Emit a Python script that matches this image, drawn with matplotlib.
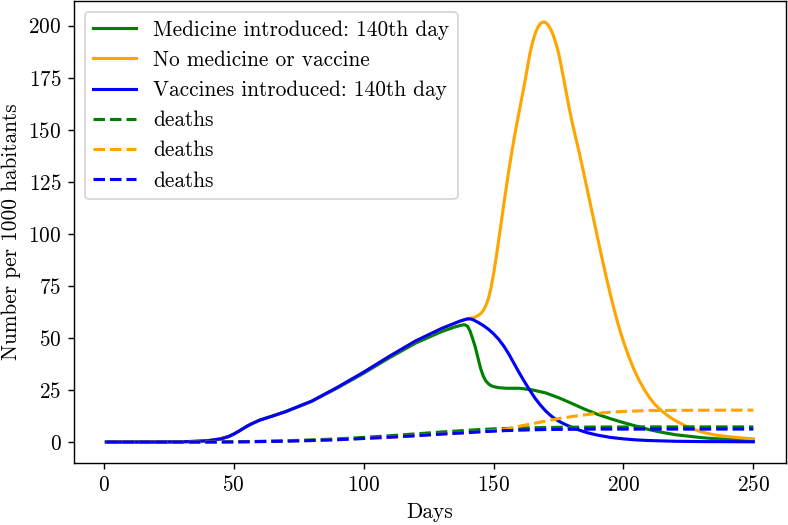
import matplotlib
matplotlib.use("Agg")
import matplotlib.pyplot as plt

plt.rcParams['font.family'] = 'serif'
plt.rcParams['font.serif'] = ['cmr10']
plt.rcParams['axes.formatter.use_mathtext'] = True
plt.rcParams['font.size'] = 12

# Vaccine scenario (blue) – infected
days_vac = [1, 10, 20, 30, 35, 40, 45, 48, 50, 52, 55, 57, 60, 65, 70, 80, 90, 100, 110, 120, 130, 135,
            137, 139, 140, 141, 142, 144, 146, 148, 150, 152, 154, 156, 158, 160, 162, 164, 166, 168,
            170, 172, 174, 176, 178, 180, 183, 186, 190, 195, 200, 205, 210, 220, 230, 240, 250]
inf_vac = [0, 0, 0, 0.1, 0.3, 0.6, 1.5, 2.6, 3.8, 5.2, 7.5, 8.8, 10.5, 12.5, 14.6, 19.6, 26.3, 33.5, 41.2, 48.5, 54.5, 57.0,
           58.0, 58.8, 59.1, 59.1, 58.8, 57.5, 56.0, 54.2, 52.0, 49.3, 46.0, 42.0, 37.5, 33.0, 28.8, 24.8, 21.0, 17.8,
           15.0, 12.7, 10.8, 9.4, 8.2, 7.1, 5.7, 4.5, 3.3, 2.2, 1.5, 1.0, 0.7, 0.35, 0.2, 0.15, 0.1]

# Medicine scenario (green) – infected
days_med = [1, 10, 20, 30, 35, 40, 45, 48, 50, 52, 55, 57, 60, 65, 70, 80, 90, 100, 110, 120, 130, 135, 137,
            138, 139, 140, 141, 142, 143, 144, 145, 146, 147, 148, 149, 150, 152, 155, 160, 165, 170, 175, 180,
            185, 190, 195, 200, 205, 210, 215, 220, 225, 230, 235, 240, 245, 250]
inf_med = [0, 0, 0, 0.1, 0.3, 0.6, 1.5, 2.6, 3.8, 5.2, 7.5, 8.8, 10.5, 12.5, 14.6, 19.5, 26.0, 33.0, 40.5, 47.5, 53.0, 55.2, 55.9,
           56.2, 56.3, 55.6, 53.2, 49.5, 45.5, 40.5, 35.5, 31.8, 29.4, 28.0, 27.1, 26.6, 26.1, 25.8, 25.8, 25.0, 23.6, 21.3, 18.6,
           15.8, 13.3, 11.2, 9.3, 7.6, 5.9, 4.6, 3.5, 2.8, 2.1, 1.6, 1.3, 1.1, 0.95]

# No medicine or vaccine (orange) – infected
days_none = [1, 10, 20, 30, 35, 40, 45, 48, 50, 52, 55, 57, 60, 65, 70, 80, 90, 100, 110, 120, 130, 135, 137, 139,
             140, 141, 142, 143, 144, 145, 146, 147, 148, 149, 150, 151, 152, 153, 154, 155, 156, 157, 158, 159,
             160, 161, 162, 163, 164, 165, 166, 167, 168, 169, 170, 171, 172, 173, 174, 175, 176, 177, 178, 179,
             180, 181, 182, 183, 184, 185, 186, 187, 188, 189, 190, 191, 192, 193, 194, 195, 196, 197, 198, 199,
             200, 202, 204, 206, 208, 210, 212, 215, 218, 220, 223, 225, 228, 230, 235, 240, 245, 250]
inf_none = [0, 0, 0, 0.1, 0.3, 0.6, 1.5, 2.6, 3.8, 5.2, 7.5, 8.8, 10.5, 12.5, 14.6, 19.6, 26.3, 33.5, 41.2, 48.5, 54.5, 57.0, 58.0, 58.8,
            59.2, 59.4, 59.6, 60.0, 60.7, 61.6, 63.0, 65.3, 68.7, 73.8, 80.5, 88.5, 97.0, 105.8, 114.5, 123.0, 131.3, 139.0, 146.3, 153.0,
            159.5, 166.0, 172.5, 179.5, 186.5, 191.8, 196.0, 199.0, 200.9, 201.7, 201.5, 200.3, 198.2, 195.3, 191.5, 187.0, 181.0, 174.5, 167.8, 161.2,
            155.0, 149.5, 144.2, 139.0, 133.3, 127.5, 121.7, 115.9, 110.0, 104.2, 98.4, 92.6, 86.9, 81.3, 75.9, 70.7, 65.7, 60.9, 56.4, 52.2,
            48.3, 41.2, 35.0, 29.7, 25.2, 21.4, 18.2, 14.6, 11.8, 10.3, 8.3, 7.1, 5.7, 4.9, 3.4, 2.6, 2.0, 1.5]

# Deaths
days_d = [1, 40, 50, 60, 70, 80, 90, 100, 110, 120, 130, 140, 145, 150, 155, 158, 160, 165, 170, 175,
          180, 185, 190, 195, 200, 210, 220, 230, 240, 250]
deaths_med = [0, 0, 0.1, 0.3, 0.6, 1.0, 1.5, 2.2, 3.0, 3.9, 4.8, 5.6, 6.0, 6.3, 6.5, 6.6, 6.7, 6.85, 6.95, 7.05,
              7.1, 7.15, 7.2, 7.2, 7.2, 7.25, 7.25, 7.25, 7.25, 7.25]
deaths_none = [0, 0, 0.05, 0.2, 0.4, 0.7, 1.1, 1.7, 2.3, 3.0, 3.8, 4.5, 4.9, 5.5, 6.2, 7.0, 7.6, 8.8, 10.0, 11.2,
               12.2, 13.0, 13.8, 14.3, 14.7, 15.1, 15.2, 15.25, 15.3, 15.3]
deaths_vac = [0, 0, 0.05, 0.2, 0.4, 0.7, 1.1, 1.7, 2.3, 3.0, 3.8, 4.5, 4.9, 5.2, 5.5, 5.6, 5.7, 5.85, 6.0, 6.05,
              6.1, 6.15, 6.2, 6.2, 6.2, 6.2, 6.2, 6.2, 6.2, 6.2]

labels = ["Medicine introduced: 140th day", "No medicine or vaccine",
          "Vaccines introduced: 140th day", "deaths", "deaths", "deaths"]

DPI = 128
fig = plt.figure(figsize=(788 / DPI, 525 / DPI), dpi=DPI)
ax = fig.add_axes([74/788, 62/525, (785.7-74)/788, (463-1)/525])
lw = 1.75
ax.plot(days_med, inf_med, color='green', lw=lw, label=labels[0])
ax.plot(days_none, inf_none, color='orange', lw=lw, label=labels[1])
ax.plot(days_vac, inf_vac, color='blue', lw=lw, label=labels[2])
ax.plot(days_d, deaths_med, color='green', lw=lw, ls='--', label=labels[3])
ax.plot(days_d, deaths_none, color='orange', lw=lw, ls='--', label=labels[4])
ax.plot(days_d, deaths_vac, color='blue', lw=lw, ls='--', label=labels[5])

ax.set_xlabel("Days")
ax.set_ylabel("Number per 1000 habitants")
ax.set_yticks([0, 25, 50, 75, 100, 125, 150, 175, 200])
ax.set_xticks([0, 50, 100, 150, 200, 250])
ax.legend(loc='upper left')

fig.savefig("out.png", dpi=DPI)
